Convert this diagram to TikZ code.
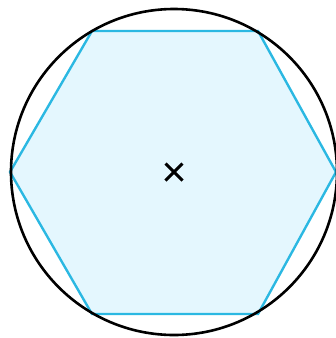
\documentclass[tikz,border=0pt]{standalone}
\definecolor{hexfill}{HTML}{E4F7FE}
\definecolor{hexline}{HTML}{2BB8E2}
\begin{document}
\begin{tikzpicture}[x=1pt,y=-1pt,
  hexstyle/.style={draw=hexline,fill=hexfill,line width=2.4pt,line join=miter},
  circstyle/.style={draw=black,line width=2.6pt},
  crossstyle/.style={draw=black,line width=3pt}]
\useasboundingbox (0,0) rectangle (336,338);
\begin{scope}
\clip (0,0) rectangle (336,338);
\coordinate (v1) at (10,172);
\coordinate (v2) at (92,31);
\coordinate (v3) at (258,31);
\coordinate (v4) at (336,172);
\coordinate (v5) at (258,314);
\coordinate (v6) at (92,314);
\coordinate (c) at (174,172);
\draw[hexstyle] (v1) -- (v2) -- (v3) -- (v4) -- (v5) -- (v6) -- cycle;
\draw[circstyle] (c) circle[radius=163];
\draw[crossstyle] ([shift={(-8.5,-8.5)}]c) -- ([shift={(8.5,8.5)}]c);
\draw[crossstyle] ([shift={(-8.5,8.5)}]c) -- ([shift={(8.5,-8.5)}]c);
\end{scope}
\end{tikzpicture}
\end{document}
